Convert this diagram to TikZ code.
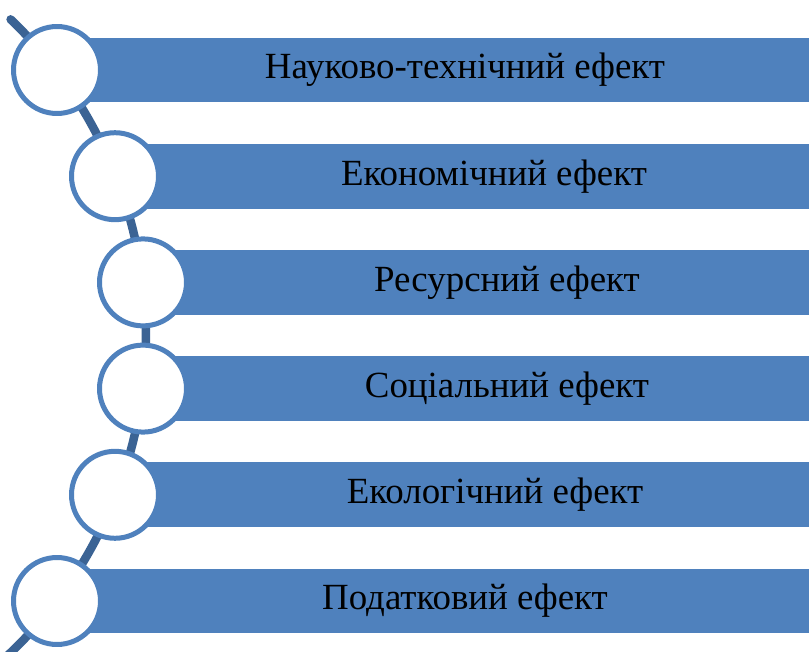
\documentclass[tikz,border=0pt]{standalone}
\usepackage{fontspec}
\setmainfont{Liberation Serif}
\definecolor{barblue}{HTML}{4F81BD}
\definecolor{arcblue}{HTML}{3B6394}
\tikzset{
  bar/.style={rectangle,fill=barblue,minimum height=1.3cm,inner sep=0pt,anchor=west},
  ring/.style={circle,draw=barblue,line width=0.1cm,fill=white,minimum size=1.74cm,inner sep=0pt},
  label/.style={font=\fontsize{21}{24}\selectfont,text=black}
}
\begin{document}
\begin{tikzpicture}[x=0.02cm,y=-0.02cm]
  \useasboundingbox (0,0) rectangle (809,652);
  \clip (0,0) rectangle (809,652);
  % дуга через центри кіл
  \draw[arcblue,line width=0.17cm,line cap=round] (-292,336) ++(-46.3:438) arc[start angle=-46.3,end angle=50,radius=438];
  \foreach \i/\cx/\tx/\lab in {1/57/465/{Науково-технічний ефект},2/115/494/{Економічний ефект},3/143/507/{Ресурсний ефект},4/143/507/{Соціальний ефект},5/115/495/{Екологічний ефект},6/57/465/{Податковий ефект}}{
    \pgfmathsetmacro\cy{70+(\i-1)*106.2}
    \pgfmathsetmacro\bw{(809-\cx)*0.02}
    \node[bar,minimum width=\bw cm] (bar\i) at (\cx,\cy) {};
    \node[label] (t\i) at (\tx,\cy) {\lab};
    \node[ring] (c\i) at (\cx,\cy) {};
  }
\end{tikzpicture}
\end{document}
